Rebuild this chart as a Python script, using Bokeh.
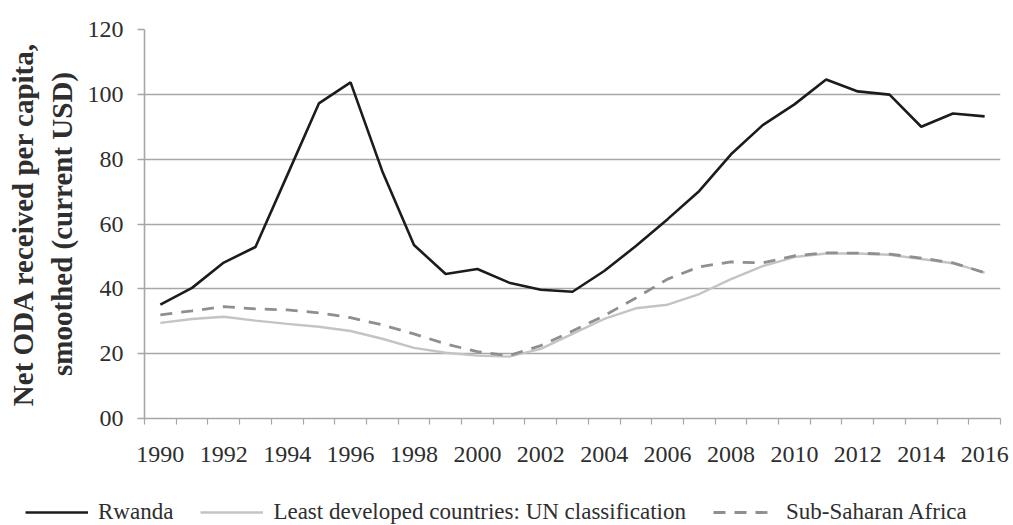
from bokeh.plotting import figure
from bokeh.models import FixedTicker, Range1d, Legend, LegendItem
from bokeh.layouts import column
from bokeh.embed import file_html
from bokeh.resources import INLINE

years = list(range(1990, 2017))
rwanda = [35.1, 40.3, 48.1, 52.9, 75.0, 97.2, 103.7, 76.3, 53.5, 44.6, 46.1, 41.9, 39.7,
          39.1, 45.5, 53.2, 61.5, 70.2, 81.5, 90.5, 96.9, 104.6, 100.9, 99.9, 90.0, 94.1, 93.2]
ldc = [29.5, 30.7, 31.4, 30.2, 29.2, 28.3, 27.0, 24.6, 21.8, 20.3, 19.4, 19.1, 21.5,
       26.1, 30.7, 34.0, 35.1, 38.4, 43.0, 47.0, 49.8, 50.9, 50.9, 50.5, 49.2, 47.9, 45.0]
ssa = [32.0, 33.2, 34.5, 33.8, 33.5, 32.6, 31.1, 28.9, 26.1, 23.0, 20.6, 19.4, 22.5,
       27.0, 31.7, 37.2, 43.0, 46.8, 48.3, 48.0, 50.2, 51.1, 51.0, 50.7, 49.5, 48.0, 45.0]
y_ticks = [0, 20, 40, 60, 80, 100, 120]
x_label_years = list(range(1990, 2017, 2))
series_names = ["Rwanda", "Least developed countries: UN classification", "Sub-Saharan Africa"]
series_values = [rwanda, ldc, ssa]

FONT = "Liberation Serif"
TXT = "#2e2e2e"
GRID = "#a6a6a6"
STYLES = [dict(line_color="#1c1c1c", line_width=2.6),
          dict(line_color="#c4c4c4", line_width=2.4),
          dict(line_color="#8f8f8f", line_width=2.8, line_dash="12 9")]

p = figure(width=1013, height=470, output_backend="svg", toolbar_location=None,
           x_range=Range1d(1989.5, 2016.5), y_range=Range1d(0, 120),
           min_border_left=144, min_border_right=13, min_border_top=29, min_border_bottom=52)
p.outline_line_color = None
p.background_fill_color = "white"
p.border_fill_color = "white"
p.frame_align = False

for vals, s in zip(series_values, STYLES):
    p.line(years, vals, **s)

p.xgrid.grid_line_color = None
p.ygrid.grid_line_color = GRID
p.ygrid.grid_line_width = 1.6
p.ygrid.ticker = FixedTicker(ticks=y_ticks)

p.yaxis.ticker = FixedTicker(ticks=y_ticks)
p.yaxis.major_label_overrides = {0: "00"}
p.yaxis.axis_line_color = GRID
p.yaxis.axis_line_width = 1.6
p.yaxis.major_tick_line_color = GRID
p.yaxis.major_tick_line_width = 1.4
p.yaxis.major_tick_out = 7
p.yaxis.major_tick_in = 0
p.yaxis.minor_tick_line_color = None
p.yaxis.major_label_text_font = FONT
p.yaxis.major_label_text_font_size = "24px"
p.yaxis.major_label_text_color = TXT
p.yaxis.major_label_standoff = 14
p.yaxis.axis_label = "Net ODA received per capita,\nsmoothed (current USD)"
p.yaxis.axis_label_text_font = FONT
p.yaxis.axis_label_text_font_style = "bold"
p.yaxis.axis_label_text_font_size = "29px"
p.yaxis.axis_label_text_color = TXT
p.yaxis.axis_label_standoff = 7

p.xaxis.ticker = FixedTicker(ticks=x_label_years, minor_ticks=[y - 0.5 for y in years] + [2016.5])
p.xaxis.axis_line_color = GRID
p.xaxis.axis_line_width = 1.6
p.xaxis.major_tick_line_color = None
p.xaxis.minor_tick_line_color = GRID
p.xaxis.minor_tick_line_width = 1.2
p.xaxis.minor_tick_out = 6
p.xaxis.minor_tick_in = 0
p.xaxis.major_label_text_font = FONT
p.xaxis.major_label_text_font_size = "24px"
p.xaxis.major_label_text_color = TXT
p.xaxis.major_label_standoff = 22

# legend strip below the chart (its lines lie outside its own ranges, only the legend shows)
lf = figure(width=1013, height=55, output_backend="svg", toolbar_location=None,
            x_range=Range1d(0, 1), y_range=Range1d(0, 1),
            min_border_left=0, min_border_right=0, min_border_top=0, min_border_bottom=0)
lf.frame_align = False
lf.axis.visible = False
lf.grid.visible = False
lf.outline_line_color = None
lf.border_fill_color = "white"
lf.background_fill_color = "white"
dummies = [lf.line(years, vals, **s) for vals, s in zip(series_values, STYLES)]

legend = Legend(items=[LegendItem(label=n, renderers=[r]) for n, r in zip(series_names, dummies)],
                orientation="horizontal", location=(25, 0))
legend.label_text_font = FONT
legend.label_text_font_size = "23px"
legend.label_text_color = TXT
legend.glyph_width = 63
legend.label_standoff = 10
legend.spacing = 27
legend.padding = 0
legend.margin = 0
legend.border_line_color = None
legend.background_fill_alpha = 0
lf.add_layout(legend, "center")

layout = column(p, lf, spacing=0)
open("out.html", "w").write(file_html(layout, INLINE))
